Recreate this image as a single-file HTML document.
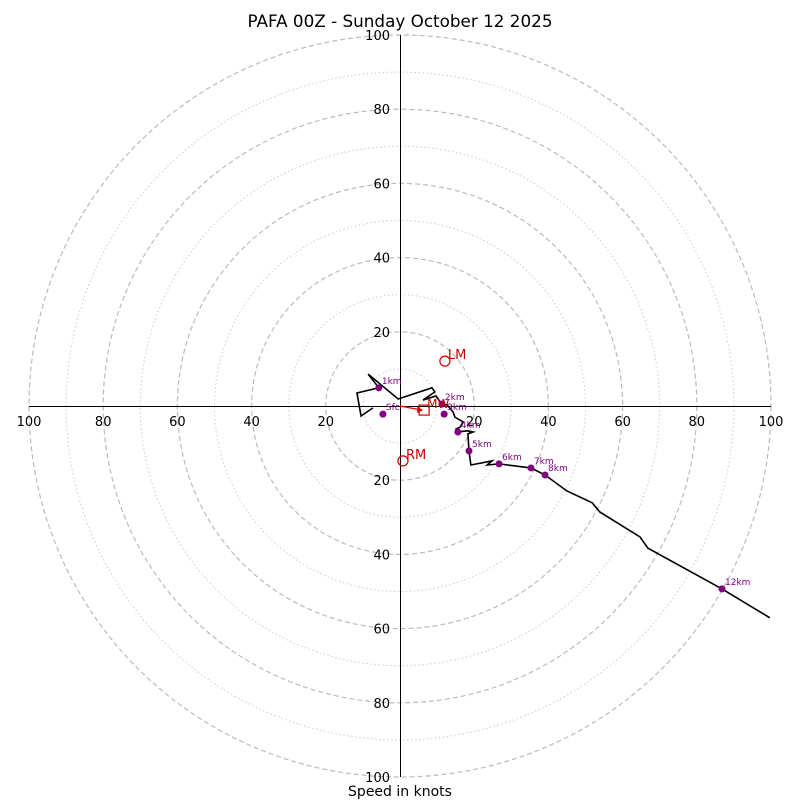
<!DOCTYPE html>
<html><head><meta charset="utf-8"><style>
body{margin:0;background:#fff}
svg{display:block;font-family:"DejaVu Sans","Liberation Sans",sans-serif}
</style></head><body>
<svg id="c" width="800" height="800">
<text x="400" y="27" text-anchor="middle" font-size="16.8">PAFA 00Z - Sunday October 12 2025</text>
<text x="400" y="796" text-anchor="middle" font-size="14">Speed in knots</text>
<g id="rings"></g><g id="axes"></g><g id="plot"></g>
</svg>
<script>
const ringVals=[10,20,30,40,50,60,70,80,90,100];
const tickLabels=[20,40,60,80,100];
const pathU=[-7.3,-10.5,-11.6,-5.7,-8.6,-0.5,8.6,9.4,6.2,9.7,11.3,12.7,14.3,14.8,17.0,16.2,15.1,15.6,18.1,19.7,18.3,18.6,19.1,24.8,23.5,26.7,35.3,39.1,45.0,51.8,53.9,64.7,66.8,86.8,99.7];
const pathV=[-0.5,-2.7,3.5,4.9,8.6,1.9,4.9,3.8,1.6,2.7,0.5,0.3,-1.6,-3.0,-4.3,-5.7,-6.2,-7.0,-6.7,-7.0,-7.5,-12.1,-15.9,-14.8,-15.9,-15.6,-16.7,-18.6,-22.9,-26.1,-28.6,-35.3,-38.3,-49.3,-57.1];
const markerLabels=["Sfc","1km","2km","3km","4km","5km","6km","7km","8km","12km"];
const markerU=[-4.6,-5.7,11.3,11.9,15.6,18.6,26.7,35.3,39.1,86.8];
const markerV=[-2.2,4.9,0.5,-2.2,-7.0,-12.1,-15.6,-16.7,-18.6,-49.3];
const lm=[12.1,12.1], rm=[0.8,-14.8], mw=[6.5,-1.1];
const cx=400,cy=406,k=3.71;
const X=u=>cx+u*k, Y=v=>cy-v*k;
const NS="http://www.w3.org/2000/svg";
function mk(tag,attrs,parent){const e=document.createElementNS(NS,tag);for(const a in attrs)e.setAttribute(a,attrs[a]);document.getElementById(parent).appendChild(e);return e;}
ringVals.forEach(r=>{
 const e=mk('circle',{cx:cx,cy:cy,r:r*k,fill:'none',stroke:r%20===0?'#bbb':'#ccc','stroke-width':r%20===0?1.2:1,'stroke-dasharray':r%20===0?'5,3':'1.5,2.5'},'rings');
 
 
});
let e=mk('line',{x1:X(-100),y1:cy+0.5,x2:X(100),y2:cy+0.5,stroke:'#000','stroke-width':1.2,'shape-rendering':'crispEdges'},'axes');


e=mk('line',{x1:cx+0.5,y1:Y(100),x2:cx+0.5,y2:Y(-100),stroke:'#000','stroke-width':1.2,'shape-rendering':'crispEdges'},'axes');


tickLabels.forEach(t=>{
 [[X(t),cy+20,'middle'],[X(-t),cy+20,'middle']].forEach(p=>{
  const l=mk('text',{x:p[0],y:p[1],'text-anchor':p[2],'font-size':13},'axes');l.textContent=t;
  
  
 });
 [Y(t),Y(-t)].forEach(y=>{
  const l=mk('text',{x:cx-10,y:y+5,'text-anchor':'end','font-size':13},'axes');l.textContent=t;
  
  
 });
});
e=mk('polyline',{points:pathU.map((u,i)=>X(u)+','+Y(pathV[i])).join(' '),fill:'none',stroke:'#000','stroke-width':1.6},'plot');


markerU.forEach((u,i)=>{
 const c=mk('circle',{cx:X(u),cy:Y(markerV[i]),r:3.5,fill:'#800080'},'plot');
 
 
 const t=mk('text',{x:X(u)+3,y:Y(markerV[i])-4,'font-size':9,fill:'#800080'},'plot');t.textContent=markerLabels[i];
 
 
});
e=mk('line',{x1:cx,y1:cy,x2:X(mw[0])-2,y2:Y(mw[1]),stroke:'red','stroke-width':1.3},'plot');


e=mk('polygon',{points:`${X(mw[0])-1},${Y(mw[1])} ${X(mw[0])-7},${Y(mw[1])-3.5} ${X(mw[0])-7},${Y(mw[1])+3}`,fill:'red'},'plot');


e=mk('rect',{x:X(mw[0])-5,y:Y(mw[1])-5,width:10,height:10,fill:'none',stroke:'#c00','stroke-width':1.2},'plot');


e=mk('text',{x:X(mw[0])+3,y:Y(mw[1])-2,'font-size':12,fill:'#c00'},'plot');e.textContent='MW';


[[lm,'LM','left-mover'],[rm,'RM','right-mover']].forEach(d=>{
 const c=mk('circle',{cx:X(d[0][0]),cy:Y(d[0][1]),r:5,fill:'none',stroke:'#c00','stroke-width':1.2},'plot');
 
 
 const t=mk('text',{x:X(d[0][0])+3,y:Y(d[0][1])-2,'font-size':13,fill:'#c00'},'plot');t.textContent=d[1];
 
 
});
</script>
</body></html>
